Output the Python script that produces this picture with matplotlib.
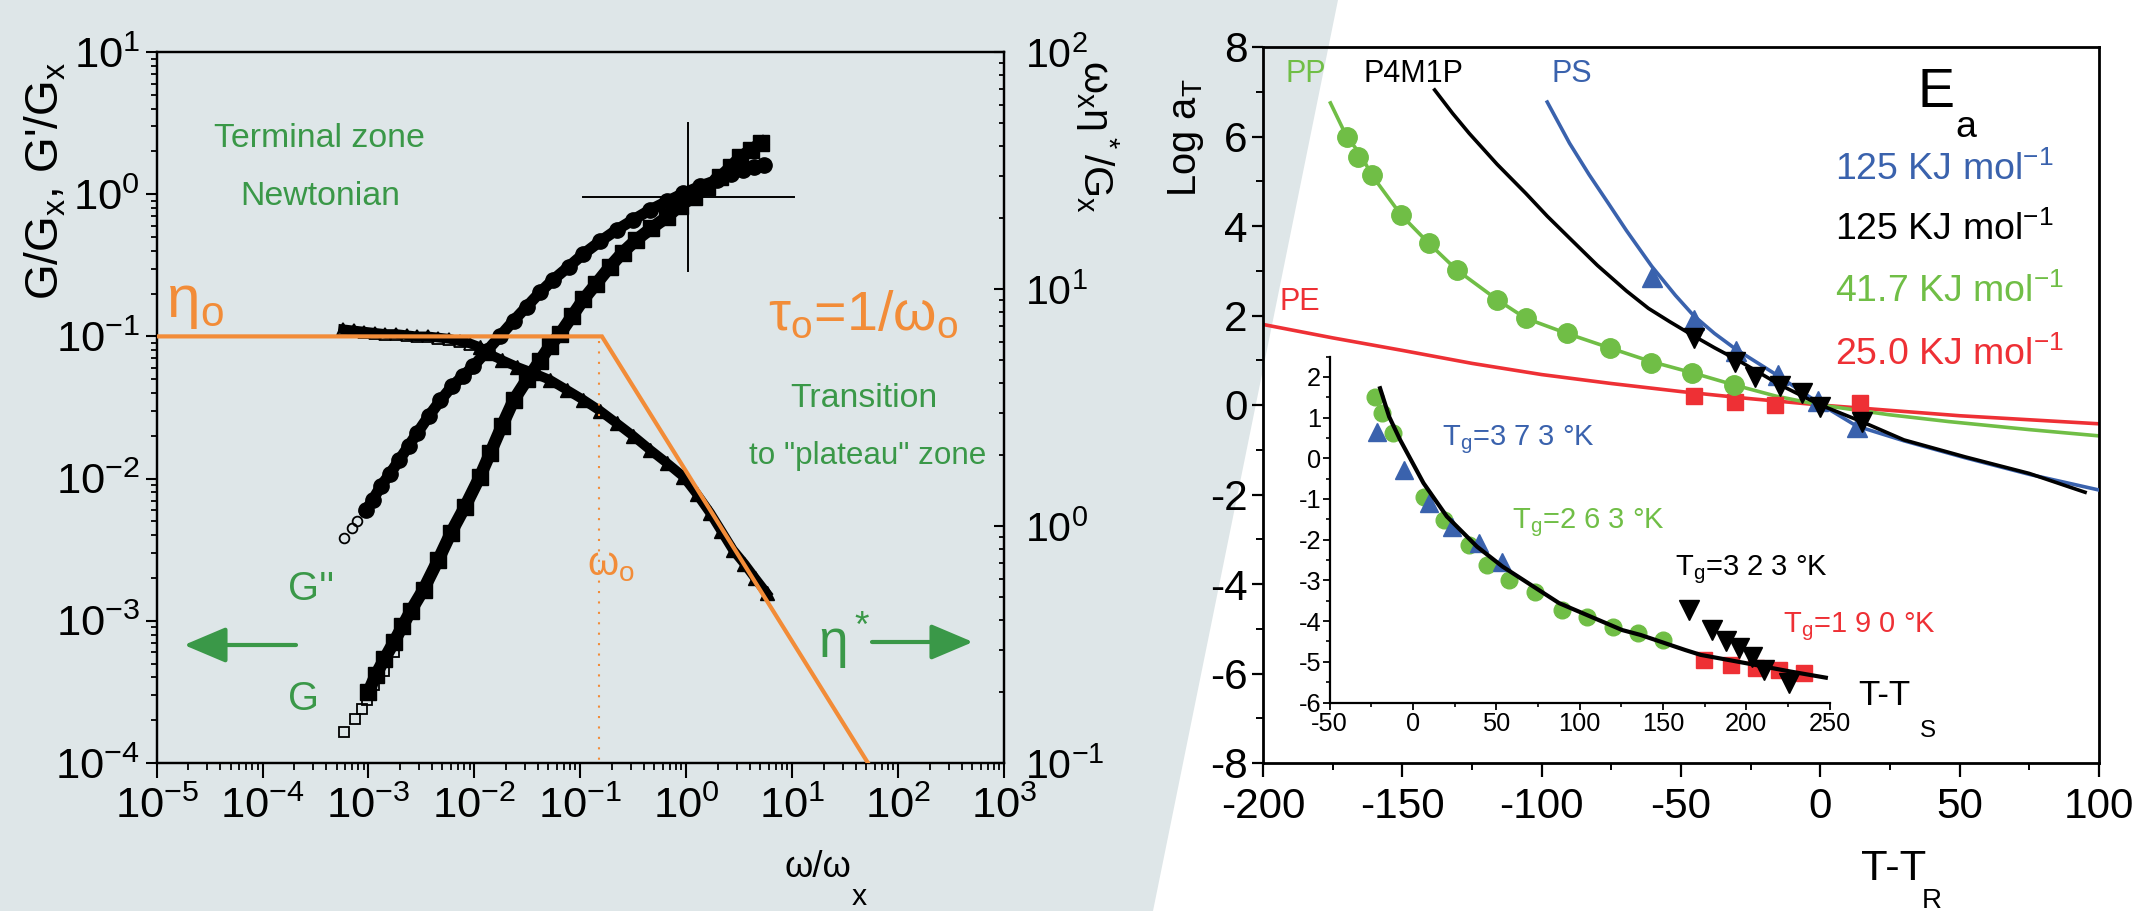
import numpy as np
import matplotlib
matplotlib.use("Agg")
import matplotlib.pyplot as plt
from matplotlib import font_manager as fm
from matplotlib.ticker import FixedLocator, FixedFormatter, NullFormatter, LogLocator, MultipleLocator
from matplotlib.patches import Polygon, FancyArrowPatch


def pick(names):
    for n in names:
        try:
            fm.findfont(fm.FontProperties(family=n), fallback_to_default=False)
            return n
        except Exception:
            continue
    return "DejaVu Sans"


NARROW = pick(["Liberation Sans Narrow", "Arial Narrow", "Liberation Sans"])
WIDE = pick(["Liberation Sans", "Arial", "DejaVu Sans"])
# size factor: a real narrow face can be drawn larger
K = 1.0 if "Narrow" in NARROW else 0.87
plt.rcParams["font.family"] = [NARROW, "DejaVu Sans"]
plt.rcParams["mathtext.fontset"] = "custom"
plt.rcParams["mathtext.rm"] = NARROW
plt.rcParams["mathtext.it"] = NARROW
plt.rcParams["mathtext.bf"] = NARROW
plt.rcParams["mathtext.sf"] = NARROW
plt.rcParams["mathtext.default"] = "regular"
plt.rcParams["axes.unicode_minus"] = False

# ---------------- data : left panel (log10 values) ----------------
# G' (storage) - reduced master curve
Gp_open_logw = [-3.23, -3.13, -3.06, -3.01, -2.95, -2.85, -2.76, -2.66]
Gp_open_logG = [-3.78, -3.69, -3.62, -3.56, -3.45, -3.35, -3.22, -3.06]
Gp_logw = [-3.00, -2.93, -2.85, -2.76, -2.68, -2.60, -2.48, -2.34, -2.22, -2.09, -1.95,
           -1.85, -1.74, -1.63, -1.50, -1.38, -1.29, -1.19, -1.08, -0.97, -0.85, -0.72,
           -0.60, -0.47, -0.33, -0.18, -0.06, 0.07, 0.20, 0.32, 0.42, 0.51, 0.61, 0.71]
Gp_logG = [-3.50, -3.38, -3.27, -3.15, -3.04, -2.93, -2.78, -2.57, -2.38, -2.20, -1.99,
           -1.82, -1.63, -1.45, -1.30, -1.17, -1.07, -0.98, -0.86, -0.74, -0.63, -0.51,
           -0.41, -0.32, -0.24, -0.16, -0.08, -0.02, 0.05, 0.12, 0.19, 0.26, 0.31, 0.36]
# G'' (loss)
Gpp_open_logw = [-3.23, -3.16, -3.11, -3.04]
Gpp_open_logG = [-2.42, -2.35, -2.30, -2.23]
Gpp_logw = [-3.02, -2.96, -2.88, -2.80, -2.71, -2.62, -2.54, -2.43, -2.32, -2.21, -2.11,
            -2.01, -1.88, -1.76, -1.63, -1.505, -1.38, -1.254, -1.11, -0.97, -0.81,
            -0.655, -0.50, -0.34, -0.18, -0.026, 0.13, 0.29, 0.42, 0.54, 0.64, 0.73]
Gpp_logG = [-2.22, -2.15, -2.05, -1.97, -1.87, -1.77, -1.68, -1.56, -1.45, -1.35, -1.28,
            -1.21, -1.10, -1.00, -0.89, -0.79, -0.69, -0.60, -0.51, -0.42, -0.33,
            -0.25, -0.18, -0.11, -0.05, 0.006, 0.055, 0.10, 0.14, 0.17, 0.19, 0.205]
# eta* (right axis)
eta_open_logw = [-3.24, -3.14, -3.04, -2.94, -2.84, -2.74, -2.64, -2.54, -2.44, -2.34,
                 -2.24, -2.14, -2.04]
eta_open_log = [0.83, 0.825, 0.82, 0.815, 0.81, 0.81, 0.805, 0.80, 0.80, 0.795, 0.79,
                0.78, 0.77]
eta_logw = [-1.95, -1.88, -1.74, -1.60, -1.44, -1.285, -1.13, -0.97, -0.81, -0.655,
            -0.50, -0.34, -0.18, -0.026, 0.10, 0.226, 0.33, 0.44, 0.55, 0.65, 0.76]
eta_log = [0.755, 0.73, 0.70, 0.672, 0.645, 0.616, 0.575, 0.532, 0.485, 0.433, 0.38,
           0.321, 0.265, 0.208, 0.135, 0.055, -0.02, -0.10, -0.16, -0.22, -0.284]
# Newtonian plateau / power-law asymptote (orange) and omega_0
orange_w = [1e-5, 0.16, 52.0]
orange_G = [0.1, 0.1, 1e-4]
omega0 = 0.15
# crossover point (omega_x, G_x)
cross_w, cross_G = 1.05, 0.955
cross_dw, cross_dG = 1.0, 0.52   # half-spans in decades

left_x_exp = list(range(-5, 4))
left_y_exp = list(range(-4, 2))
right_y_exp = list(range(-1, 3))

# ---------------- data : right panel ----------------
PE_line_x = [-200, -175, -150, -125, -100, -75, -50, -25, 0, 25, 50, 75, 100]
PE_line_y = [1.80, 1.50, 1.22, 0.93, 0.68, 0.48, 0.30, 0.14, 0.0, -0.12, -0.24, -0.33, -0.42]
PE_pts_x = [-45.5, -30.6, -16.2, 14.2]
PE_pts_y = [0.19, 0.07, 0.0, 0.04]

PP_line_x = [-175.8, -170, -165, -161, -150.5, -140.6, -130.5, -115.9, -105.8, -91, -75.3,
             -60.7, -45.9, -31, -16, 0, 25, 46, 75, 100]
PP_line_y = [6.75, 6.0, 5.6, 5.14, 4.25, 3.62, 3.02, 2.35, 1.94, 1.6, 1.27, 0.97, 0.72,
             0.45, 0.2, 0.0, -0.22, -0.37, -0.55, -0.69]
PP_pts_x = [-170, -166, -161, -150.5, -140.6, -130.5, -115.9, -105.8, -91, -75.3, -60.7,
            -45.9, -31]
PP_pts_y = [6.0, 5.55, 5.14, 4.25, 3.62, 3.02, 2.35, 1.94, 1.6, 1.27, 0.93, 0.72, 0.45]

P4_line_x = [-138.4, -132, -126, -116, -105.7, -98, -90, -80, -69.6, -61.7, -54, -47,
             -38, -29, -14.5, 0, 14.8, 30, 52, 75, 95]
P4_line_y = [7.04, 6.52, 6.07, 5.38, 4.73, 4.22, 3.73, 3.12, 2.55, 2.16, 1.86, 1.60,
             1.28, 0.98, 0.45, 0.0, -0.37, -0.78, -1.16, -1.53, -1.95]
P4_pts_x = [-45.5, -30.6, -23.4, -14.5, -6.7, -0.1, 14.8]
P4_pts_y = [1.5, 0.95, 0.62, 0.42, 0.27, -0.04, -0.37]

PS_line_x = [-98, -90, -83, -76, -69.6, -60.5, -52, -45.5, -38, -30.4, -15.1, 0, 13, 30,
             52, 75, 100]
PS_line_y = [6.77, 5.85, 5.15, 4.5, 3.9, 3.1, 2.45, 2.0, 1.6, 1.25, 0.65, 0.02, -0.47,
             -0.8, -1.18, -1.55, -1.9]
PS_pts_x = [-60.5, -45.5, -30.4, -15.1, -0.7, 13]
PS_pts_y = [2.85, 1.9, 1.2, 0.68, 0.1, -0.5]

energies = ["125 KJ mol$^{-1}$", "125 KJ mol$^{-1}$", "41.7 KJ mol$^{-1}$", "25.0 KJ mol$^{-1}$"]

# inset (T - Ts)
fit_x = [-19.65, -14.2, -7.6, 6.4, 20.4, 38.5, 53.8, 87.8, 125.6, 136.6, 163.4, 172.7,
         200.7, 226.7, 247.8]
fit_y = [1.72, 1.02, 0.45, -0.61, -1.43, -2.17, -2.66, -3.56, -4.22, -4.34, -4.71, -4.83,
         -5.04, -5.24, -5.39]
iPP_x = [-22.7, -18.6, -11.7, 6.4, 18.4, 33.4, 44.3, 57.6, 73.5, 89.7, 104.7, 119.8, 135, 150.2]
iPP_y = [1.51, 1.1, 0.61, -0.94, -1.52, -2.13, -2.62, -2.99, -3.28, -3.73, -3.89, -4.14,
         -4.30, -4.46]
iPS_x = [-21.3, -5.6, 9.4, 23.4, 39.4, 53.7]
iPS_y = [0.65, -0.29, -1.1, -1.68, -2.09, -2.54]
iP4_x = [165.6, 179.7, 187.7, 195.7, 203.7, 210.7, 225.7]
iP4_y = [-3.73, -4.22, -4.5, -4.67, -4.87, -5.2, -5.53]
iPE_x = [174.6, 190.7, 205.7, 219.7, 234.7]
iPE_y = [-4.96, -5.08, -5.16, -5.2, -5.28]

# ---------------- style ----------------
BG = "#dee6e8"
ORANGE = "#f28c38"
DGREEN = "#3a9848"
LGREEN = "#70be46"
BLUE = "#3a62ad"
RED = "#ee3035"

W, H = 2135, 911
fig = plt.figure(figsize=(W / 100, H / 100), dpi=100)
fig.patch.set_facecolor("white")


def FX(x):
    return x / W


def FY(y):
    return 1 - y / H


def T(x, y, s, size, color="k", ha="left", va="baseline", rot=0, fam=None, scale=True, **kw):
    kw2 = dict(fontsize=size * (K if scale else 1.0), color=color, ha=ha, va=va,
               rotation=rot, rotation_mode="anchor")
    if fam is not None:
        kw2["fontfamily"] = fam
    kw2.update(kw)
    return fig.text(FX(x), FY(y), s, **kw2)


fig.add_artist(Polygon([(0, 1), (FX(1338), 1), (FX(1153), 0), (0, 0)], closed=True,
                       transform=fig.transFigure, facecolor=BG, edgecolor="none",
                       zorder=-10))

p10 = lambda a: np.power(10.0, np.asarray(a, dtype=float))

# ======================= LEFT PANEL =======================
ax = fig.add_axes([FX(156.6), FY(763), (1004 - 156.6) / W, (763 - 52) / H])
ax2 = ax.twinx()
ax.set_zorder(ax2.get_zorder() + 1)
ax.patch.set_visible(False)
ax2.patch.set_visible(False)

ax.set_xscale("log")
ax.set_yscale("log")
ax.set_xlim(1e-5, 1e3)
ax.set_ylim(1e-4, 1e1)
ax2.set_yscale("log")
ax2.set_ylim(1e-1, 1e2)

for a in (ax, ax2):
    for sp in a.spines.values():
        sp.set_linewidth(1.6)

ax.xaxis.set_major_locator(FixedLocator([10.0 ** e for e in left_x_exp]))
ax.xaxis.set_major_formatter(FixedFormatter(["10$^{%d}$" % e for e in left_x_exp]))
ax.xaxis.set_minor_locator(LogLocator(base=10, subs=np.arange(2, 10), numticks=100))
ax.xaxis.set_minor_formatter(NullFormatter())
ax.yaxis.set_major_locator(FixedLocator([10.0 ** e for e in left_y_exp]))
ax.yaxis.set_major_formatter(FixedFormatter(["10$^{%d}$" % e for e in left_y_exp]))
ax.yaxis.set_minor_locator(LogLocator(base=10, subs=np.arange(2, 10), numticks=100))
ax.yaxis.set_minor_formatter(NullFormatter())
ax2.yaxis.set_major_locator(FixedLocator([10.0 ** e for e in right_y_exp]))
ax2.yaxis.set_major_formatter(FixedFormatter(["10$^{%d}$" % e for e in right_y_exp]))
ax2.yaxis.set_minor_locator(LogLocator(base=10, subs=np.arange(2, 10), numticks=100))
ax2.yaxis.set_minor_formatter(NullFormatter())

ax.tick_params(axis="x", which="major", direction="out", length=11, width=1.5, pad=6,
               labelsize=36 * K, top=False)
ax.tick_params(axis="x", which="minor", direction="out", length=5, width=1.3, top=False)
ax.tick_params(axis="y", which="major", direction="out", length=8, width=1.5, pad=4,
               labelsize=36 * K, right=False)
ax.tick_params(axis="y", which="minor", direction="out", length=4.5, width=1.3, right=False)
ax2.tick_params(axis="y", which="major", direction="in", length=7, width=1.5, pad=15,
                labelsize=34 * K, left=False)
ax2.tick_params(axis="y", which="minor", direction="in", length=3.5, width=1.3, left=False)

# eta* on the right axis
ax2.plot(p10(eta_open_logw + eta_logw), p10(eta_open_log + eta_log), color="k", lw=7,
         zorder=2)
ax2.plot(p10(eta_open_logw), p10(eta_open_log), ls="none", marker="^", ms=9, mfc="none",
         mec="k", mew=1.3, zorder=3)
ax2.plot(p10(eta_logw), p10(eta_log), ls="none", marker="^", ms=10, mfc="k", mec="k",
         zorder=3)

# G' and G''
ax.plot(p10(Gpp_logw), p10(Gpp_logG), color="k", lw=8, zorder=2)
ax.plot(p10(Gpp_logw), p10(Gpp_logG), ls="none", marker="o", ms=11, mfc="k", mec="k",
        zorder=2)
ax.plot(p10(Gpp_open_logw), p10(Gpp_open_logG), ls="none", marker="o", ms=7, mfc="none",
        mec="k", mew=1.3, zorder=2)
ax.plot(p10(Gp_logw), p10(Gp_logG), color="k", lw=9, zorder=2)
ax.plot(p10(Gp_logw), p10(Gp_logG), ls="none", marker="s", ms=12, mfc="k", mec="k",
        zorder=2)
ax.plot(p10(Gp_open_logw), p10(Gp_open_logG), ls="none", marker="s", ms=7, mfc="none",
        mec="k", mew=1.3, zorder=3)

# orange asymptotes
ax.plot(orange_w, orange_G, color=ORANGE, lw=3, zorder=4, solid_joinstyle="miter")
ax.plot([omega0, omega0], [orange_G[0] * 0.93, 1e-4], color=ORANGE, lw=1.5,
        ls=(0, (1, 4)), zorder=4)

# crossover cross-hair
ax.plot([cross_w * 10 ** -cross_dw, cross_w * 10 ** cross_dw], [cross_G, cross_G],
        color="k", lw=1.4, zorder=5)
ax.plot([cross_w, cross_w], [cross_G * 10 ** -cross_dG, cross_G * 10 ** cross_dG],
        color="k", lw=1.4, zorder=5)

# annotations left panel
T(214, 147, "Terminal zone", 28, DGREEN)
T(240, 205, "Newtonian", 28, DGREEN)
T(790, 407, "Transition", 28, DGREEN)
T(749, 464, 'to "plateau" zone', 26, DGREEN)
T(288, 600, "G''", 33, DGREEN)
T(288, 710, "G", 33, DGREEN)
T(166, 317, "η$_o$", 50, ORANGE)
T(768, 330, "τ$_o$=1/ω$_o$", 46, ORANGE)
T(587, 575, "ω$_o$", 33, ORANGE)
T(818, 658, "η$^*$", 44, DGREEN)

for (x0, x1, y0) in [(296, 184, 645), (872, 973, 642)]:
    fig.add_artist(FancyArrowPatch(
        (FX(x0), FY(y0)), (FX(x1), FY(y0)), transform=fig.transFigure,
        arrowstyle="-|>,head_length=1.3,head_width=0.55", mutation_scale=20,
        color=DGREEN, lw=3, shrinkA=0, shrinkB=0))

# axis labels left panel
T(59, 300, "G/G$_x$, G'/G$_x$", 38, "k", rot=90)
T(1083, 60, "ω$_x$η$^*$/G$_x$", 34, "k", rot=270)
T(785, 877, "ω/ω", 30, "k")
T(852, 905, "x", 25, "k")

# ======================= RIGHT PANEL =======================
axr = fig.add_axes([FX(1263), FY(763), (2099 - 1263) / W, (763 - 47) / H])
axr.set_facecolor("none")
axr.set_xlim(-200, 100)
axr.set_ylim(-8, 8)
for sp in axr.spines.values():
    sp.set_linewidth(2.0)
axr.xaxis.set_major_locator(MultipleLocator(50))
axr.xaxis.set_minor_locator(MultipleLocator(25))
axr.yaxis.set_major_locator(MultipleLocator(2))
axr.yaxis.set_minor_locator(MultipleLocator(1))
axr.tick_params(axis="both", which="both", direction="out", top=False, right=False)
axr.tick_params(axis="x", which="major", length=10, width=1.6, pad=7, labelsize=35 * K)
axr.tick_params(axis="x", which="minor", length=5, width=1.4)
axr.tick_params(axis="y", which="major", length=8, width=1.6, pad=3, labelsize=35 * K)
axr.tick_params(axis="y", which="minor", length=5, width=1.4)

axr.plot(PE_line_x, PE_line_y, color=RED, lw=2.6, zorder=2)
axr.plot(PE_pts_x, PE_pts_y, ls="none", marker="s", ms=11, color=RED, zorder=3)
axr.plot(PP_line_x, PP_line_y, color=LGREEN, lw=2.6, zorder=2)
axr.plot(PP_pts_x, PP_pts_y, ls="none", marker="o", ms=14, color=LGREEN, zorder=3)
axr.plot(PS_line_x, PS_line_y, color=BLUE, lw=2.6, zorder=4)
axr.plot(PS_pts_x, PS_pts_y, ls="none", marker="^", ms=14, color=BLUE, zorder=4)
axr.plot(P4_line_x, P4_line_y, color="k", lw=2.6, zorder=5)
axr.plot(P4_pts_x, P4_pts_y, ls="none", marker="v", ms=14, color="k", zorder=5)

T(1285, 82, "PP", 22, LGREEN, fam=[WIDE, "DejaVu Sans"], scale=False)
T(1364, 82, "P4M1P", 22, "k", fam=[WIDE, "DejaVu Sans"], scale=False)
T(1552, 82, "PS", 22, BLUE, fam=[WIDE, "DejaVu Sans"], scale=False)
T(1279, 310, "PE", 22, RED, fam=[WIDE, "DejaVu Sans"], scale=False)
T(1918, 107, "E", 46, "k")
T(1955, 137, "a", 31, "k")
for lab, col, yb in zip(energies, [BLUE, "k", LGREEN, RED], [180, 240, 302, 365]):
    T(1835, yb, lab, 31, col)

T(1196, 197, "Log a$_T$", 33, "k", rot=90)
T(1861, 880, "T-T", 36, "k")
T(1922, 908, "R", 23, "k")

# ---------------- inset ----------------
axi = fig.add_axes([FX(1329.5), FY(702.5), 500 / W, (702.5 - 356.5) / H])
axi.set_facecolor("none")
axi.set_xlim(-50, 250)
axi.set_ylim(-6, 2.5)
axi.spines["top"].set_visible(False)
axi.spines["right"].set_visible(False)
for s in ("left", "bottom"):
    axi.spines[s].set_linewidth(1.6)
axi.xaxis.set_major_locator(MultipleLocator(50))
axi.xaxis.set_minor_locator(MultipleLocator(25))
axi.yaxis.set_major_locator(MultipleLocator(1))
axi.yaxis.set_minor_locator(MultipleLocator(0.5))
axi.tick_params(axis="both", which="both", direction="out", top=False, right=False)
axi.tick_params(axis="x", which="major", length=5, width=1.3, pad=2, labelsize=21 * K)
axi.tick_params(axis="y", which="major", length=5, width=1.3, pad=1, labelsize=21 * K)
axi.tick_params(axis="both", which="minor", length=3, width=1.2)

axi.plot(iPP_x, iPP_y, ls="none", marker="o", ms=12, color=LGREEN, zorder=2)
axi.plot(iPS_x, iPS_y, ls="none", marker="^", ms=13, color=BLUE, zorder=3)
axi.plot(iPE_x, iPE_y, ls="none", marker="s", ms=11, color=RED, zorder=2)
axi.plot(iP4_x, iP4_y, ls="none", marker="v", ms=14, color="k", zorder=3)
axi.plot(fit_x, fit_y, color="k", lw=3, zorder=4)

T(1441.7, 445, "T$_g$=3 7 3 °K", 21, BLUE, fam=[WIDE, "DejaVu Sans"], scale=False)
T(1511.6, 528, "T$_g$=2 6 3 °K", 21, LGREEN, fam=[WIDE, "DejaVu Sans"], scale=False)
T(1675, 575, "T$_g$=3 2 3 °K", 21, "k", fam=[WIDE, "DejaVu Sans"], scale=False)
T(1783.3, 632, "T$_g$=1 9 0 °K", 21, RED, fam=[WIDE, "DejaVu Sans"], scale=False)
T(1858, 705, "T-T", 29, "k")
T(1920, 737, "S", 20, "k")

fig.savefig("out.png", dpi=100, facecolor="white")
